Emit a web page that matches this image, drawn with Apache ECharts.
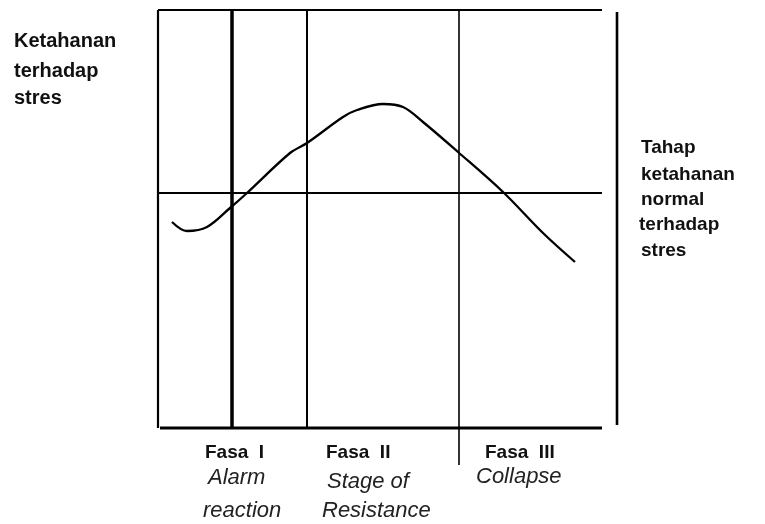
<!DOCTYPE html>
<html>
<head>
<meta charset="utf-8">
<script src="https://cdn.jsdelivr.net/npm/echarts@6/dist/echarts.min.js"></script>
<style>
  html, body { margin: 0; padding: 0; background: #fff; }
  #chart { width: 765px; height: 524px; }
</style>
</head>
<body>
<div id="chart"></div>
<script>
// --- data (x: time across phases, y: resistance to stress) ---
const curveX = [14, 29, 49, 72, 89, 132, 149, 185, 199, 225, 245, 265, 300, 345, 385, 417];
const curveY = [206, 197, 201, 220, 235, 275, 285, 311, 318, 324, 321, 306, 276, 236, 195, 166];
const normalLevel = 235;
const phaseBounds = [74, 149, 301];
const phaseLabels = ['Fasa  I', 'Fasa  II', 'Fasa  III'];
const phaseNames = [['Alarm', 'reaction'], ['Stage of', 'Resistance'], ['Collapse']];
const yLabelLeft = ['Ketahanan', 'terhadap', 'stres'];
const yLabelRight = ['Tahap', 'ketahanan', 'normal', 'terhadap', 'stres'];

const X_MAX = 444, Y_TOP = 418;

const chart = echarts.init(document.getElementById('chart'));

function seg(points, width) {
    return {
        type: 'line', data: points, symbol: 'none', silent: true,
        lineStyle: { color: '#000', width: width }, z: 2
    };
}

const series = [
    seg([[0, 0], [0, Y_TOP]], 2.2),               // left edge
    seg([[0, Y_TOP], [X_MAX, Y_TOP]], 2.2),        // top edge
    seg([[2, 0], [X_MAX, 0]], 3),                  // base
    seg([[0, normalLevel], [X_MAX, normalLevel]], 2),
    seg([[phaseBounds[0], 0], [phaseBounds[0], Y_TOP]], 3.5),
    seg([[phaseBounds[1], 0], [phaseBounds[1], Y_TOP]], 2),
    seg([[phaseBounds[2], -37], [phaseBounds[2], Y_TOP]], 1.6),
    seg([[459, 3], [459, 416]], 2.6),              // outer right rule
    {
        type: 'line', smooth: 0.35, symbol: 'none', z: 3,
        data: curveX.map((x, i) => [x, curveY[i]]),
        lineStyle: { color: '#000', width: 2.3 }
    }
];

const bold = { fontFamily: 'Liberation Sans, Arial, sans-serif', fontWeight: 'bold', fill: '#111' };
const ital = { fontFamily: 'Liberation Sans, Arial, sans-serif', fontStyle: 'italic', fill: '#222' };
const graphics = [];
const leftTops = [31, 61, 88];
yLabelLeft.forEach((t, i) => {
    graphics.push({ type: 'text', left: 14, top: leftTops[i], style: Object.assign({ text: t, fontSize: 20 }, bold) });
});
const rightTops = [138, 165, 190, 215, 241];
yLabelRight.forEach((t, i) => {
    graphics.push({ type: 'text', left: i === 3 ? 639 : 641, top: rightTops[i], style: Object.assign({ text: t, fontSize: 19 }, bold) });
});
const phaseLeft = [205, 326, 485];
phaseLabels.forEach((t, i) => {
    graphics.push({ type: 'text', left: phaseLeft[i], top: 443, style: Object.assign({ text: t, fontSize: 19 }, bold) });
});
const nameLeft = [[208, 203], [327, 322], [476]];
const nameTop = [[467, 500], [471, 500], [466]];
phaseNames.forEach((lines, i) => {
    lines.forEach((t, j) => {
        graphics.push({ type: 'text', left: nameLeft[i][j], top: nameTop[i][j], style: Object.assign({ text: t, fontSize: 22 }, ital) });
    });
});

chart.setOption({
    animation: false,
    backgroundColor: '#fff',
    grid: { left: 158, top: 10, width: 462, height: 463 },
    xAxis: { type: 'value', min: 0, max: 462, show: false },
    yAxis: { type: 'value', min: -45, max: 418, show: false },
    series: series,
    graphic: graphics
});
</script>
</body>
</html>
